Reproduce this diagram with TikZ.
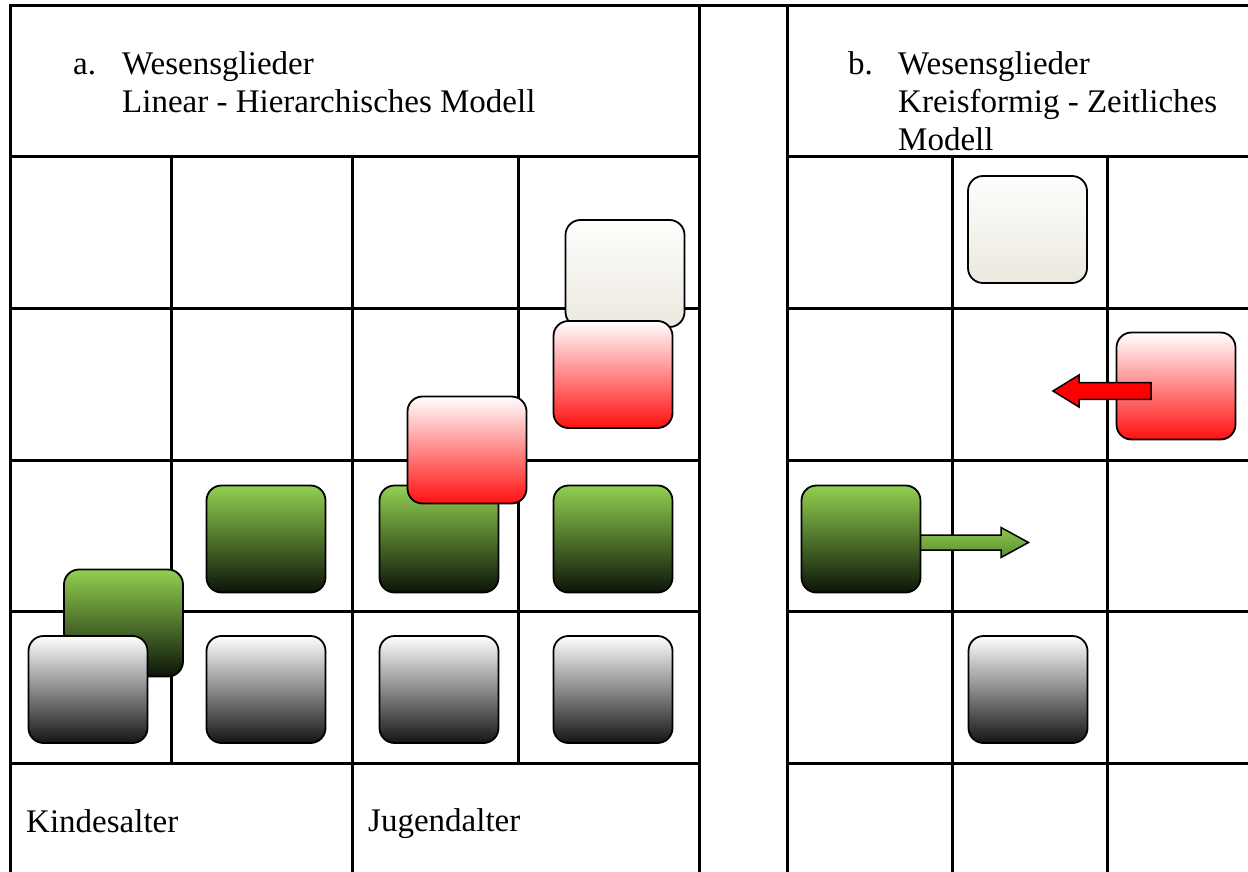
\documentclass[tikz,border=0pt]{standalone}
\usepackage{fontspec}
\setmainfont{Liberation Serif}
\definecolor{leaf}{RGB}{146,208,80}
\definecolor{leafmid}{RGB}{96,140,56}
\definecolor{leafdark}{RGB}{12,20,8}
\definecolor{rosemid}{RGB}{255,172,172}
\definecolor{rosered}{RGB}{255,16,16}
\definecolor{creamtop}{RGB}{254,254,253}
\definecolor{creammid}{RGB}{245,244,238}
\definecolor{creambot}{RGB}{235,232,222}
\definecolor{arrowtop}{RGB}{140,200,75}
\definecolor{arrowbot}{RGB}{92,140,52}
\tikzset{
  rule/.style={line width=3pt, line cap=rect},
  tile/.style={draw=black, line width=1.8pt, rounded corners=15pt,
    minimum width=119pt, minimum height=107pt, inner sep=0pt},
  graytile/.style={tile, top color=white, middle color=black!30, bottom color=black!92},
  greentile/.style={tile, top color=leaf, middle color=leafmid, bottom color=leafdark},
  redtile/.style={tile, top color=white, middle color=rosemid, bottom color=rosered},
  creamtile/.style={tile, top color=creamtop, middle color=creammid, bottom color=creambot},
  redarrow/.style={draw=black, line width=1.5pt, fill=red, line join=miter},
  greenarrow/.style={draw=black, line width=1.5pt, top color=arrowtop, bottom color=arrowbot, line join=miter},
  label/.style={inner sep=0pt, anchor=base west, font=\fontsize{33}{38}\selectfont}
}
\begin{document}
\begin{tikzpicture}[x=1pt, y=-1pt]
\useasboundingbox (0,0) rectangle (1248,872);
\clip (0,0) rectangle (1248,872);
\fill[white] (0,0) rectangle (1248,872);

% ---- table rules ----
% top rule across both tables
\draw[rule] (10,6) -- (1260,6);
% left table
\draw[rule] (10,6) -- (10,890);
\draw[rule] (699,6) -- (699,890);
\foreach \y in {157,308,460,611,763}
  \draw[rule] (10,\y) -- (699,\y);
\draw[rule] (171,157) -- (171,763);
\draw[rule] (352,157) -- (352,890);
\draw[rule] (518,157) -- (518,763);
% right table
\draw[rule] (787,6) -- (787,890);
\foreach \y in {157,308,460,611,763}
  \draw[rule] (787,\y) -- (1260,\y);
\draw[rule] (952,157) -- (952,890);
\draw[rule] (1107,157) -- (1107,890);

% ---- headings ----
\node[label] (la) at (73,75) {a.};
\node[label] (lat) at (122,75) {Wesensglieder};
\node[label] (las) at (122,113) {Linear - Hierarchisches Modell};
\node[label] (lb) at (848,75) {b.};
\node[label] (lbt) at (898,75) {Wesensglieder};
\node[label] (lbs) at (898,113) {Kreisformig - Zeitliches};
\node[label] (lbm) at (898,151) {Modell};
\node[label] (kind) at (26,832) {Kindesalter};
\node[label] (jug) at (368,831) {Jugendalter};

% ---- linear model tiles ----
\node[greentile] (ga1) at (123.5,623) {};
\node[graytile] (ka1) at (88,689.5) {};
\node[graytile] (ka2) at (266,689.5) {};
\node[graytile] (ka3) at (439,689.5) {};
\node[graytile] (ka4) at (613,689.5) {};
\node[greentile] (ga2) at (266,539) {};
\node[greentile] (ga3) at (439,539) {};
\node[greentile] (ga4) at (613,539) {};
\node[redtile] (ra3) at (467,450) {};
\node[creamtile] (ca4) at (625,273.5) {};
\node[redtile] (ra4) at (613,374.5) {};

% ---- cyclic model tiles ----
\node[creamtile] (cb) at (1027.5,229.5) {};
\node[redtile] (rb) at (1176,386) {};
\node[graytile] (kb) at (1028,689.5) {};
\coordinate (gtail) at (915,542.5);
\draw[greenarrow] (gtail) ++(0,-7.5) -- ++(86,0) -- ++(0,-7.5) -- ++(27.5,15)
  -- ++(-27.5,15) -- ++(0,-7.5) -- ++(-86,0) -- cycle;
\node[greentile] (gb) at (861,539) {};
\coordinate (rtip) at (1053,391);
\draw[redarrow] (rtip) -- ++(26,-16) -- ++(0,7.7) -- ++(72,0) -- ++(0,16.6)
  -- ++(-72,0) -- ++(0,7.7) -- cycle;
\end{tikzpicture}
\end{document}
